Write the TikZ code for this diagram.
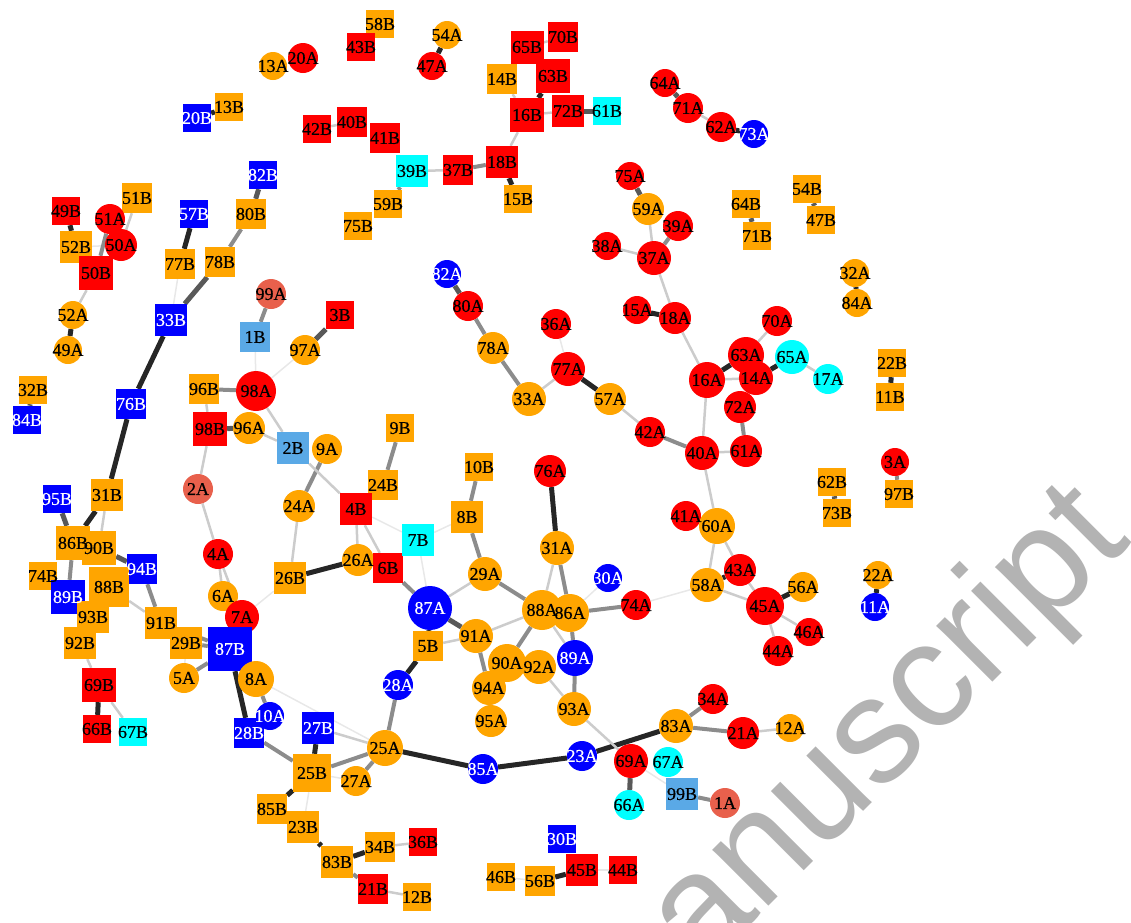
\documentclass[tikz,border=0pt]{standalone}
\usepackage{fontspec}
\setmainfont{Liberation Serif}
\newfontfamily\lblfont{Liberation Serif}[FakeBold=0.5]
\newfontfamily\wmfont{Liberation Sans}
\usetikzlibrary{backgrounds}
\pgfdeclarelayer{fg}
\pgfsetlayers{background,main,fg}
\definecolor{cOR}{HTML}{FFA500}
\definecolor{cRD}{HTML}{FF0000}
\definecolor{cBL}{HTML}{0000FF}
\definecolor{cCY}{HTML}{00FFFF}
\definecolor{cLB}{HTML}{5AA9E6}
\definecolor{cSA}{HTML}{E8604C}
\definecolor{wmgray}{HTML}{B3B3B3}
\tikzset{
  cn/.style={circle, inner sep=0pt, draw=none},
  sq/.style={rectangle, inner sep=0pt, draw=none},
  lbl/.style={inner sep=0pt, font=\lblfont\fontsize{18}{18}\selectfont},
  tOR/.style={text=black}, tRD/.style={text=black}, tCY/.style={text=black},
  tLB/.style={text=black}, tSA/.style={text=black}, tBL/.style={text=white},
  edk/.style={draw=black!85, line width=5pt},
  edg/.style={draw=black!65, line width=5pt},
  emg/.style={draw=black!45, line width=4pt},
  elt/.style={draw=black!20, line width=2.5pt},
  evl/.style={draw=black!9, line width=1.5pt},
}
\newcommand\gnode[6]{\node[#1, minimum size=#5pt, fill=c#6] (#2) at (#3,#4) {};%
  \begin{pgfonlayer}{fg}\node[lbl,t#6] (t#2) at (#2) {#2};\end{pgfonlayer}}
\newcommand\gedge[3]{\draw[#1] (#2) -- (#3);}
\begin{document}
\begin{tikzpicture}[x=1pt,y=-1pt]
\useasboundingbox (0,0) rectangle (1131,922);
% ---- nodes: top
\gnode{cn}{13A}{273}{66}{28}{OR}
\gnode{cn}{20A}{303}{58}{30}{RD}
\gnode{sq}{58B}{380}{24}{28}{OR}
\gnode{sq}{43B}{361}{47}{28}{RD}
\gnode{cn}{54A}{447}{35}{28}{OR}
\gnode{cn}{47A}{432}{66}{28}{RD}
\gnode{sq}{70B}{563}{37}{30}{RD}
\gnode{sq}{65B}{527}{47}{33}{RD}
\gnode{sq}{14B}{502}{79}{30}{OR}
\gnode{sq}{63B}{553}{76}{34}{RD}
\gnode{sq}{16B}{527}{115}{34}{RD}
\gnode{sq}{72B}{568}{111}{32}{RD}
\gnode{sq}{61B}{607}{111}{28}{CY}
\gnode{sq}{20B}{197}{118}{28}{BL}
\gnode{sq}{13B}{229}{107}{28}{OR}
\gnode{sq}{42B}{317}{129}{28}{RD}
\gnode{sq}{40B}{352}{122}{30}{RD}
\gnode{sq}{41B}{385}{138}{30}{RD}
\gnode{sq}{39B}{412}{171}{32}{CY}
\gnode{sq}{37B}{458}{170}{30}{RD}
\gnode{sq}{18B}{502}{162}{32}{RD}
\gnode{sq}{15B}{518}{199}{28}{OR}
\gnode{sq}{59B}{388}{204}{28}{OR}
\gnode{sq}{75B}{358}{226}{28}{OR}
\gnode{cn}{64A}{665}{83}{28}{RD}
\gnode{cn}{71A}{688}{108}{30}{RD}
\gnode{cn}{62A}{721}{127}{30}{RD}
\gnode{cn}{73A}{754}{134}{28}{BL}
\gnode{cn}{75A}{630}{176}{28}{RD}
\gnode{cn}{59A}{648}{209}{32}{OR}
\gnode{cn}{39A}{678}{226}{30}{RD}
\gnode{cn}{38A}{607}{246}{28}{RD}
\gnode{cn}{37A}{654}{258}{34}{RD}
\gnode{sq}{64B}{746}{204}{28}{OR}
\gnode{sq}{71B}{757}{236}{28}{OR}
\gnode{sq}{54B}{807}{189}{28}{OR}
\gnode{sq}{47B}{821}{220}{28}{OR}
\gnode{cn}{32A}{855}{273}{28}{OR}
\gnode{cn}{84A}{857}{303}{28}{OR}
% ---- left
\gnode{sq}{82B}{263}{175}{28}{BL}
\gnode{sq}{80B}{251}{214}{30}{OR}
\gnode{sq}{57B}{194}{214}{28}{BL}
\gnode{sq}{77B}{180}{264}{30}{OR}
\gnode{sq}{78B}{220}{262}{30}{OR}
\gnode{sq}{49B}{66}{211}{28}{RD}
\gnode{sq}{51B}{137}{198}{30}{OR}
\gnode{cn}{51A}{110}{219}{30}{RD}
\gnode{sq}{52B}{76}{247}{32}{OR}
\gnode{sq}{50B}{96}{273}{34}{RD}
\gnode{cn}{50A}{121}{245}{32}{RD}
\gnode{cn}{52A}{73}{315}{28}{OR}
\gnode{cn}{49A}{68}{350}{28}{OR}
\gnode{cn}{99A}{271}{294}{30}{SA}
\gnode{sq}{1B}{255}{337}{30}{LB}
\gnode{sq}{3B}{340}{315}{28}{RD}
\gnode{cn}{97A}{305}{350}{30}{OR}
\gnode{sq}{33B}{171}{320}{32}{BL}
\gnode{sq}{32B}{33}{390}{28}{OR}
\gnode{sq}{84B}{27}{420}{28}{BL}
\gnode{sq}{76B}{131}{404}{30}{BL}
\gnode{sq}{96B}{204}{389}{30}{OR}
\gnode{cn}{98A}{256}{391}{40}{RD}
\gnode{sq}{98B}{210}{429}{34}{RD}
\gnode{cn}{96A}{249}{428}{32}{OR}
\gnode{sq}{2B}{293}{448}{32}{LB}
\gnode{cn}{9A}{327}{449}{30}{OR}
\gnode{cn}{2A}{198}{489}{30}{SA}
\gnode{cn}{24A}{299}{506}{32}{OR}
\gnode{sq}{9B}{400}{428}{28}{OR}
\gnode{sq}{24B}{383}{485}{30}{OR}
\gnode{sq}{4B}{356}{509}{32}{RD}
\gnode{sq}{26B}{290}{578}{32}{OR}
\gnode{cn}{26A}{358}{560}{32}{OR}
\gnode{sq}{6B}{388}{568}{30}{RD}
\gnode{sq}{7B}{418}{540}{32}{CY}
\gnode{cn}{4A}{218}{554}{30}{RD}
\gnode{cn}{6A}{223}{596}{30}{OR}
\gnode{cn}{7A}{242}{617}{34}{RD}
\gnode{sq}{31B}{107}{495}{32}{OR}
\gnode{sq}{95B}{57}{499}{28}{BL}
\gnode{sq}{74B}{43}{576}{28}{OR}
\gnode{sq}{86B}{73}{543}{34}{OR}
\gnode{sq}{90B}{99}{548}{34}{OR}
\gnode{sq}{94B}{142}{569}{30}{BL}
\gnode{sq}{89B}{68}{597}{34}{BL}
\gnode{sq}{88B}{109}{587}{40}{OR}
\gnode{sq}{93B}{93}{617}{32}{OR}
\gnode{sq}{92B}{80}{643}{32}{OR}
\gnode{sq}{91B}{161}{623}{32}{OR}
\gnode{sq}{29B}{186}{643}{32}{OR}
\gnode{cn}{5A}{184}{678}{30}{OR}
\gnode{sq}{87B}{230}{649}{44}{BL}
\gnode{cn}{8A}{256}{679}{36}{OR}
\gnode{sq}{69B}{99}{685}{34}{RD}
\gnode{sq}{66B}{97}{729}{28}{RD}
\gnode{sq}{67B}{133}{732}{28}{CY}
\gnode{cn}{10A}{270}{716}{28}{BL}
\gnode{sq}{28B}{249}{733}{30}{BL}
\gnode{sq}{27B}{318}{728}{32}{BL}
\gnode{sq}{25B}{312}{773}{38}{OR}
\gnode{cn}{27A}{356}{781}{30}{OR}
\gnode{cn}{25A}{385}{748}{36}{OR}
\gnode{sq}{85B}{272}{809}{30}{OR}
\gnode{sq}{23B}{303}{827}{32}{OR}
\gnode{sq}{83B}{337}{862}{32}{OR}
\gnode{sq}{34B}{380}{847}{30}{OR}
\gnode{sq}{21B}{373}{889}{30}{RD}
\gnode{sq}{36B}{423}{842}{28}{RD}
\gnode{sq}{12B}{417}{897}{28}{OR}
\gnode{sq}{46B}{501}{877}{28}{OR}
\gnode{sq}{56B}{540}{881}{30}{OR}
\gnode{sq}{30B}{562}{839}{28}{BL}
\gnode{sq}{45B}{582}{870}{32}{RD}
\gnode{sq}{44B}{623}{870}{28}{RD}
% ---- centre and right
\gnode{cn}{82A}{447}{274}{28}{BL}
\gnode{cn}{80A}{468}{306}{30}{RD}
\gnode{cn}{78A}{493}{348}{32}{OR}
\gnode{cn}{36A}{556}{324}{30}{RD}
\gnode{cn}{77A}{568}{369}{34}{RD}
\gnode{cn}{33A}{529}{399}{34}{OR}
\gnode{cn}{57A}{610}{399}{32}{OR}
\gnode{cn}{42A}{650}{432}{30}{RD}
\gnode{cn}{40A}{702}{453}{34}{RD}
\gnode{cn}{61A}{746}{451}{32}{RD}
\gnode{cn}{15A}{637}{310}{28}{RD}
\gnode{cn}{18A}{675}{318}{32}{RD}
\gnode{cn}{70A}{777}{321}{30}{RD}
\gnode{cn}{16A}{707}{380}{36}{RD}
\gnode{cn}{63A}{746}{355}{36}{RD}
\gnode{cn}{14A}{756}{378}{34}{RD}
\gnode{cn}{72A}{740}{407}{32}{RD}
\gnode{cn}{65A}{792}{357}{34}{CY}
\gnode{cn}{17A}{828}{379}{30}{CY}
\gnode{cn}{76A}{550}{471}{32}{RD}
\gnode{sq}{10B}{479}{467}{28}{OR}
\gnode{sq}{8B}{467}{517}{32}{OR}
\gnode{cn}{29A}{485}{574}{34}{OR}
\gnode{cn}{31A}{557}{548}{34}{OR}
\gnode{cn}{30A}{608}{578}{28}{BL}
\gnode{cn}{74A}{636}{605}{30}{RD}
\gnode{cn}{88A}{542}{610}{40}{OR}
\gnode{cn}{86A}{570}{613}{38}{OR}
\gnode{cn}{87A}{430}{608}{44}{BL}
\gnode{sq}{5B}{428}{646}{30}{OR}
\gnode{cn}{91A}{476}{636}{34}{OR}
\gnode{cn}{89A}{575}{658}{36}{BL}
\gnode{cn}{94A}{489}{688}{34}{OR}
\gnode{cn}{90A}{507}{663}{38}{OR}
\gnode{cn}{92A}{539}{667}{34}{OR}
\gnode{cn}{95A}{491}{721}{32}{OR}
\gnode{cn}{93A}{574}{709}{34}{OR}
\gnode{cn}{28A}{398}{685}{30}{BL}
\gnode{cn}{85A}{483}{769}{30}{BL}
\gnode{cn}{23A}{582}{756}{30}{BL}
\gnode{cn}{83A}{676}{726}{34}{OR}
\gnode{cn}{34A}{713}{699}{30}{RD}
\gnode{cn}{21A}{743}{733}{32}{RD}
\gnode{cn}{12A}{790}{728}{28}{OR}
\gnode{cn}{69A}{631}{761}{34}{RD}
\gnode{cn}{67A}{668}{762}{30}{CY}
\gnode{cn}{66A}{629}{805}{30}{CY}
\gnode{sq}{99B}{682}{794}{32}{LB}
\gnode{cn}{1A}{725}{803}{30}{SA}
\gnode{cn}{41A}{686}{516}{30}{RD}
\gnode{cn}{60A}{717}{526}{36}{OR}
\gnode{cn}{58A}{707}{585}{34}{OR}
\gnode{cn}{43A}{740}{570}{32}{RD}
\gnode{cn}{45A}{765}{606}{38}{RD}
\gnode{cn}{56A}{803}{587}{30}{OR}
\gnode{cn}{46A}{809}{632}{28}{RD}
\gnode{cn}{44A}{778}{651}{30}{RD}
\gnode{sq}{62B}{832}{482}{28}{OR}
\gnode{sq}{73B}{837}{513}{28}{OR}
\gnode{sq}{22B}{892}{363}{28}{OR}
\gnode{sq}{11B}{890}{397}{28}{OR}
\gnode{cn}{3A}{895}{462}{28}{RD}
\gnode{sq}{97B}{899}{494}{28}{OR}
\gnode{cn}{22A}{878}{575}{28}{OR}
\gnode{cn}{11A}{875}{607}{28}{BL}
% ---- edges
\begin{pgfonlayer}{background}
\gedge{edk}{20B}{13B}
\gedge{elt}{42B}{40B}
\gedge{edk}{54A}{47A}
\gedge{elt}{65B}{70B}
\gedge{elt}{14B}{16B}
\gedge{edk}{63B}{16B}
\gedge{elt}{16B}{72B}
\gedge{edg}{72B}{61B}
\gedge{elt}{16B}{18B}
\gedge{emg}{18B}{37B}
\gedge{elt}{37B}{39B}
\gedge{edk}{18B}{15B}
\gedge{emg}{39B}{59B}
\gedge{edg}{64A}{71A}
\gedge{elt}{71A}{62A}
\gedge{edk}{62A}{73A}
\gedge{edg}{75A}{59A}
\gedge{elt}{59A}{37A}
\gedge{emg}{39A}{37A}
\gedge{elt}{38A}{37A}
\gedge{elt}{37A}{18A}
\gedge{edg}{82A}{80A}
\gedge{edg}{64B}{71B}
\gedge{edg}{54B}{47B}
\gedge{edk}{32A}{84A}
\gedge{edg}{82B}{80B}
\gedge{emg}{80B}{78B}
\gedge{edg}{78B}{33B}
\gedge{edk}{57B}{77B}
\gedge{evl}{77B}{33B}
\gedge{edk}{49B}{52B}
\gedge{evl}{52B}{50A}
\gedge{emg}{51A}{50B}
\gedge{elt}{51B}{50A}
\gedge{elt}{50B}{52A}
\gedge{edk}{52A}{49A}
\gedge{emg}{99A}{1B}
\gedge{edg}{3B}{97A}
\gedge{edg}{32B}{84B}
\gedge{edk}{33B}{76B}
\gedge{edk}{76B}{31B}
\gedge{emg}{96B}{98A}
\gedge{edg}{98B}{96A}
\gedge{elt}{96B}{98B}
\gedge{elt}{98A}{2B}
\gedge{evl}{1B}{98A}
\gedge{evl}{97A}{98A}
\gedge{elt}{96A}{2B}
\gedge{elt}{98B}{2A}
\gedge{emg}{9A}{24A}
\gedge{elt}{24A}{26B}
\gedge{elt}{2B}{4B}
\gedge{edk}{26B}{26A}
\gedge{elt}{2A}{4A}
\gedge{elt}{4A}{6A}
\gedge{elt}{4A}{7A}
\gedge{evl}{26B}{7A}
\gedge{edg}{95B}{86B}
\gedge{edk}{31B}{86B}
\gedge{elt}{31B}{90B}
\gedge{edg}{90B}{94B}
\gedge{emg}{86B}{89B}
\gedge{edg}{74B}{89B}
\gedge{emg}{94B}{91B}
\gedge{elt}{88B}{91B}
\gedge{elt}{92B}{69B}
\gedge{edk}{69B}{66B}
\gedge{elt}{69B}{67B}
\gedge{emg}{29B}{87B}
\gedge{emg}{91B}{87B}
\gedge{emg}{5A}{87B}
\gedge{evl}{5A}{29B}
\gedge{edk}{87B}{28B}
\gedge{emg}{6A}{7A}
\gedge{emg}{8A}{10A}
\gedge{evl}{8A}{25A}
\gedge{emg}{28B}{25B}
\gedge{edk}{27B}{25B}
\gedge{elt}{27B}{25A}
\gedge{emg}{25B}{25A}
\gedge{evl}{25B}{27A}
\gedge{emg}{27A}{25A}
\gedge{edk}{25B}{85B}
\gedge{evl}{25B}{23B}
\gedge{edk}{23B}{83B}
\gedge{edk}{83B}{34B}
\gedge{emg}{83B}{21B}
\gedge{elt}{34B}{36B}
\gedge{elt}{21B}{12B}
\gedge{edg}{87A}{91A}
\gedge{edk}{87A}{5B}
\gedge{elt}{5B}{91A}
\gedge{edk}{5B}{28A}
\gedge{emg}{28A}{25A}
\gedge{edk}{25A}{85A}
\gedge{edk}{85A}{23A}
\gedge{edk}{23A}{83A}
\gedge{emg}{83A}{34A}
\gedge{emg}{83A}{21A}
\gedge{elt}{21A}{12A}
\gedge{elt}{91A}{88A}
\gedge{emg}{91A}{94A}
\gedge{emg}{90A}{88A}
\gedge{emg}{86A}{89A}
\gedge{emg}{89A}{93A}
\gedge{elt}{92A}{93A}
\gedge{elt}{93A}{69A}
\gedge{edg}{69A}{66A}
\gedge{evl}{69A}{99B}
\gedge{emg}{99B}{1A}
\gedge{edg}{94A}{95A}
\gedge{edk}{56B}{45B}
\gedge{evl}{46B}{56B}
\gedge{evl}{45B}{44B}
\gedge{elt}{4B}{26A}
\gedge{elt}{4B}{6B}
\gedge{evl}{4B}{7B}
\gedge{emg}{6B}{87A}
\gedge{evl}{7B}{87A}
\gedge{evl}{7B}{8B}
\gedge{elt}{29A}{87A}
\gedge{emg}{29A}{88A}
\gedge{emg}{8B}{29A}
\gedge{emg}{10B}{8B}
\gedge{elt}{31A}{88A}
\gedge{emg}{31A}{86A}
\gedge{edk}{76A}{31A}
\gedge{evl}{30A}{86A}
\gedge{emg}{86A}{74A}
\gedge{evl}{74A}{58A}
\gedge{elt}{88A}{89A}
\gedge{emg}{80A}{78A}
\gedge{emg}{78A}{33A}
\gedge{elt}{33A}{77A}
\gedge{evl}{36A}{77A}
\gedge{edk}{77A}{57A}
\gedge{elt}{57A}{42A}
\gedge{emg}{42A}{40A}
\gedge{elt}{40A}{61A}
\gedge{elt}{40A}{16A}
\gedge{elt}{40A}{60A}
\gedge{edk}{16A}{63A}
\gedge{elt}{16A}{14A}
\gedge{emg}{72A}{61A}
\gedge{elt}{18A}{16A}
\gedge{edk}{15A}{18A}
\gedge{elt}{60A}{58A}
\gedge{elt}{60A}{43A}
\gedge{edk}{43A}{58A}
\gedge{elt}{58A}{45A}
\gedge{elt}{43A}{45A}
\gedge{elt}{70A}{63A}
\gedge{edk}{14A}{65A}
\gedge{elt}{65A}{17A}
\gedge{edk}{45A}{56A}
\gedge{elt}{45A}{46A}
\gedge{elt}{45A}{44A}
\gedge{edg}{62B}{73B}
\gedge{edk}{22B}{11B}
\gedge{emg}{3A}{97B}
\gedge{edk}{22A}{11A}
\gedge{emg}{9B}{24B}
\end{pgfonlayer}
% ---- watermark
\begin{scope}
\clip (0,0) rectangle (1131,922);
\node[rotate=45, anchor=base west, inner sep=0pt, text=wmgray,
      font=\fontsize{150}{150}\selectfont\wmfont] (wm) at (614,1061) {manuscript};
\end{scope}
\end{tikzpicture}
\end{document}
